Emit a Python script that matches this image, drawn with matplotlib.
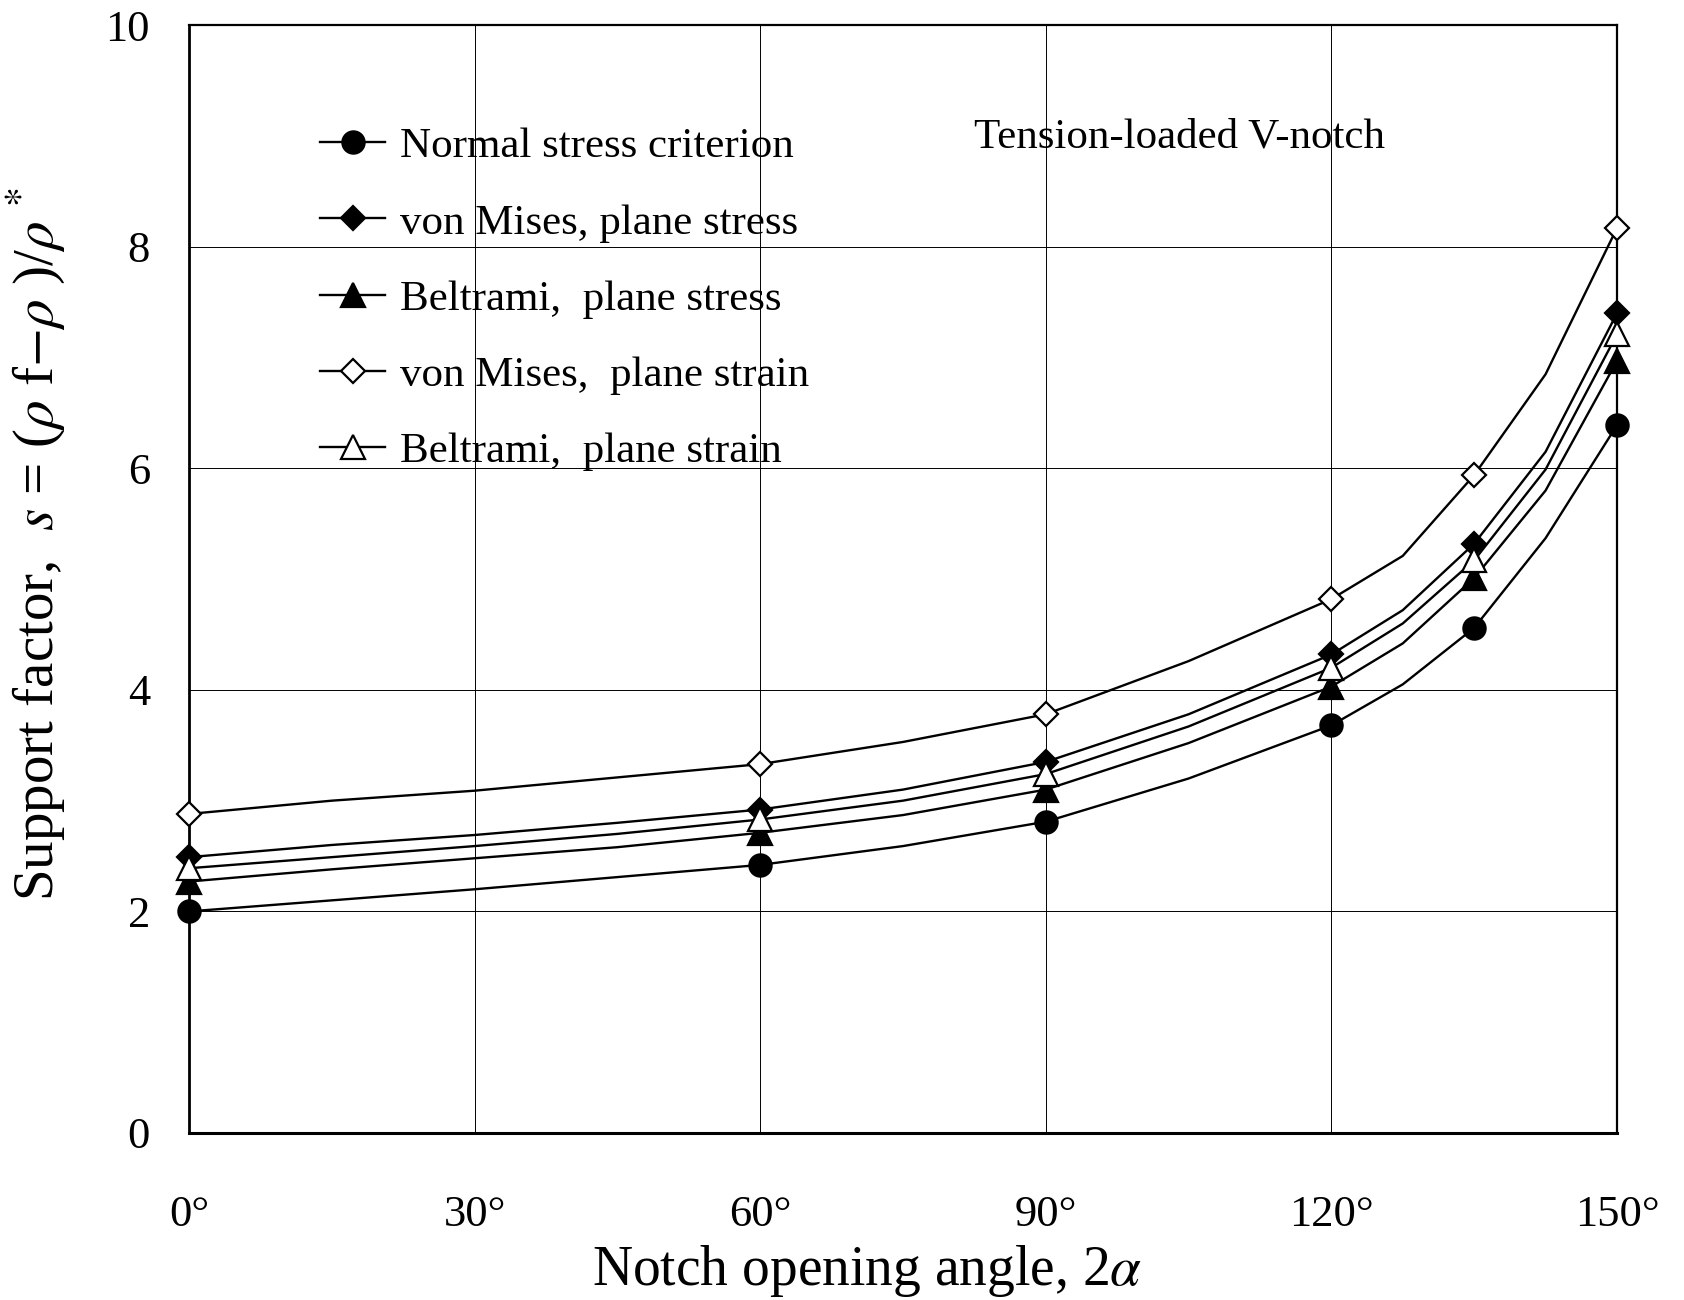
import numpy as np
import matplotlib.pyplot as plt
from matplotlib.ticker import FixedLocator

plt.rcParams['font.family'] = ['Liberation Serif', 'DejaVu Serif']
plt.rcParams['mathtext.fontset'] = 'stix'

# Angles (markers sit at 0, 60, 90, 120, 135, 150)
angles = [0, 15, 30, 45, 60, 75, 90, 105, 120, 127.5, 135, 142.5, 150]
marker_idx = [0, 4, 6, 8, 10, 12]

normal_stress = [2.00, 2.10, 2.20, 2.31, 2.42, 2.59, 2.81, 3.20, 3.68, 4.05, 4.56, 5.37, 6.39]
mises_pl_stress = [2.49, 2.60, 2.69, 2.80, 2.92, 3.10, 3.35, 3.78, 4.32, 4.72, 5.32, 6.15, 7.40]
beltrami_pl_stress = [2.27, 2.38, 2.48, 2.58, 2.71, 2.87, 3.10, 3.52, 4.03, 4.42, 5.01, 5.80, 6.97]
mises_pl_strain = [2.88, 3.00, 3.09, 3.21, 3.33, 3.53, 3.78, 4.26, 4.82, 5.21, 5.94, 6.85, 8.17]
beltrami_pl_strain = [2.39, 2.49, 2.59, 2.70, 2.83, 3.00, 3.24, 3.67, 4.20, 4.60, 5.17, 5.99, 7.21]

series = [
    ("Normal stress criterion", normal_stress, 'o', 'k', 16),
    ("von Mises, plane stress", mises_pl_stress, 'D', 'k', 12.5),
    ("Beltrami,  plane stress", beltrami_pl_stress, '^', 'k', 17),
    ("von Mises,  plane strain", mises_pl_strain, 'D', 'w', 12.5),
    ("Beltrami,  plane strain", beltrami_pl_strain, '^', 'w', 17),
]

fig = plt.figure(figsize=(16.84, 13.0), dpi=100)
ax = fig.add_axes([0.1122, 0.1285, 0.848, 0.852])

for label, vals, mk, fc, ms in series:
    ax.plot(angles, vals, color='k', lw=1.7, marker=mk, markevery=marker_idx,
            markersize=ms, markerfacecolor=fc, markeredgecolor='k',
            markeredgewidth=1.6, label=label, clip_on=False, zorder=3)

ax.set_xlim(0, 150)
ax.set_ylim(0, 10)
ax.xaxis.set_major_locator(FixedLocator([0, 30, 60, 90, 120, 150]))
ax.yaxis.set_major_locator(FixedLocator([0, 2, 4, 6, 8, 10]))
ax.set_xticklabels(['0°', '30°', '60°', '90°', '120°', '150°'])
ax.grid(True, color='k', lw=0.7)
ax.tick_params(axis='x', length=0, pad=45, labelsize=32)
ax.tick_params(axis='y', length=0, pad=28, labelsize=32)
for sp in ax.spines.values():
    sp.set_linewidth(1.6)
ax.spines['bottom'].set_linewidth(2.2)
ax.spines['left'].set_linewidth(2.0)

ax.set_xlabel(r'Notch opening angle, 2$\alpha$', fontsize=40)
ax.xaxis.set_label_coords(0.475, -0.099)
ax.set_ylabel(r'Support factor,  $s$ = ($\rho$ f$-\rho$ )/$\rho$ $^{*}$', fontsize=41)
ax.yaxis.set_label_coords(-0.085, 0.532)

ax.text(0.55, 0.899, 'Tension-loaded V-notch', transform=ax.transAxes,
        ha='left', va='center', fontsize=31)

ax.legend(loc='upper left', bbox_to_anchor=(0.092, 0.908), frameon=False,
          fontsize=31, handlelength=1.5, handletextpad=0.35, labelspacing=0.86,
          borderpad=0, borderaxespad=0)

fig.savefig('out.png', dpi=100)
